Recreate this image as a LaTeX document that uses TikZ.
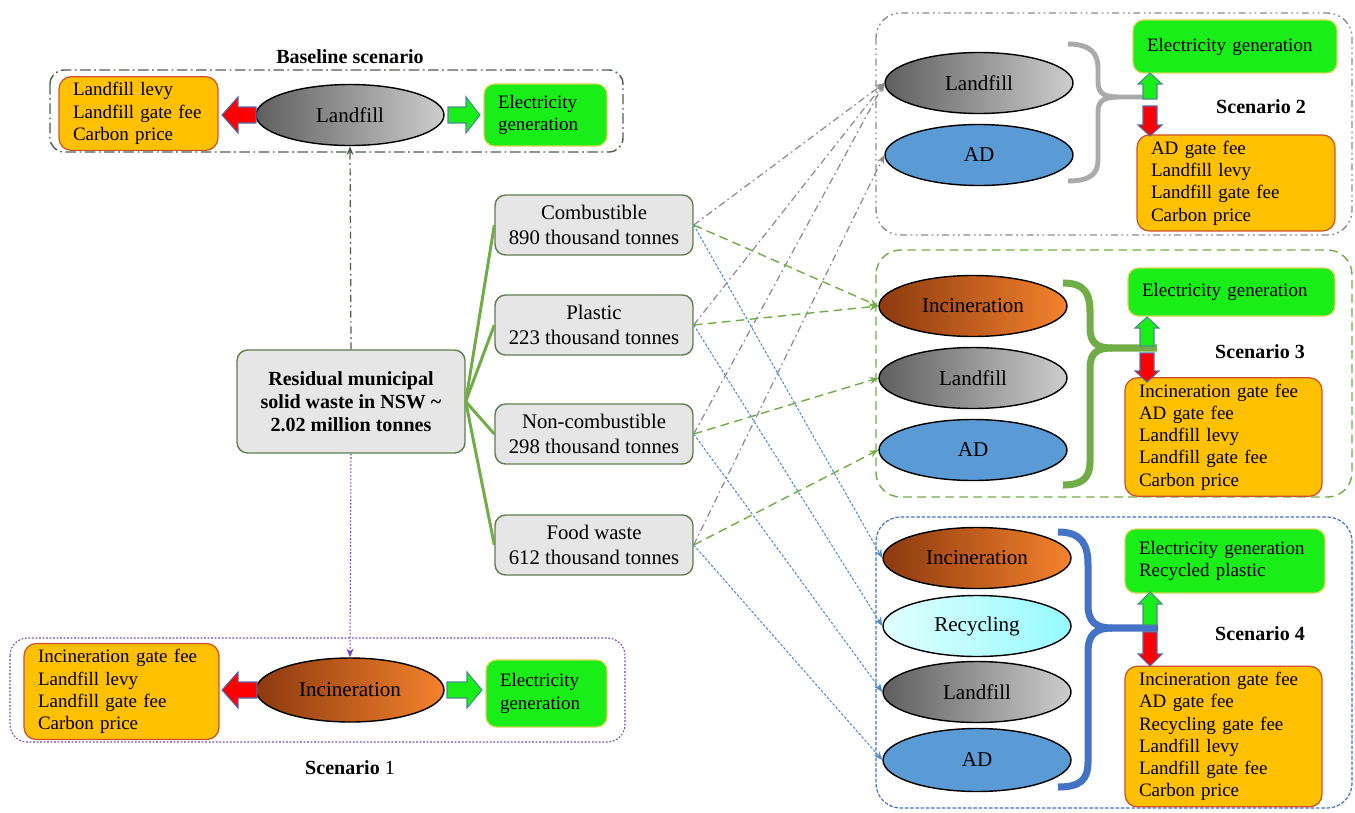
\documentclass[tikz,border=0pt]{standalone}
\usepackage{fontspec}
\setmainfont{Liberation Serif}
\usetikzlibrary{shapes.geometric,arrows.meta}

\definecolor{costfill}{RGB}{255,192,0}
\definecolor{costedge}{RGB}{205,80,45}
\definecolor{elecfill}{RGB}{25,238,25}
\definecolor{elecedge}{RGB}{210,215,80}
\definecolor{boxfill}{RGB}{230,230,230}
\definecolor{boxedge}{RGB}{95,125,80}
\definecolor{trunkgreen}{RGB}{112,173,71}
\definecolor{linegray}{RGB}{140,140,140}
\definecolor{lineblue}{RGB}{80,140,205}
\definecolor{adblue}{RGB}{91,155,213}
\definecolor{lfdark}{RGB}{95,95,95}
\definecolor{lflight}{RGB}{205,205,205}
\definecolor{incdark}{RGB}{140,58,15}
\definecolor{inclight}{RGB}{245,130,45}
\definecolor{recleft}{RGB}{225,255,255}
\definecolor{recright}{RGB}{150,250,255}
\definecolor{edgeblue}{RGB}{85,105,165}
\definecolor{edgeteal}{RGB}{70,140,140}
\definecolor{purp}{RGB}{115,70,175}
\definecolor{olivegray}{RGB}{75,95,75}
\definecolor{bracegray}{RGB}{170,170,170}
\definecolor{braceblue}{RGB}{68,114,196}

\newcommand\costfont{\fontsize{10.8}{12.7}\selectfont}
\newcommand\ovalfont{\fontsize{12}{14}\selectfont}
\newcommand\catfont{\fontsize{11.8}{14.2}\selectfont}
\newcommand\headfont{\fontsize{11.4}{13}\selectfont\bfseries}

\tikzset{
  cost/.style={draw=costedge, fill=costfill, line width=0.7pt, rounded corners=7pt, align=left, font=\costfont, inner xsep=0.28cm},
  elec/.style={draw=elecedge, fill=elecfill, line width=0.7pt, rounded corners=6pt, align=left, font=\costfont, inner xsep=0.28cm},
  oval/.style={ellipse, draw=black, line width=0.8pt, minimum width=3.76cm, minimum height=1.22cm, inner sep=0pt, font=\ovalfont},
  landfill/.style={oval, left color=lfdark, right color=lflight},
  incin/.style={oval, left color=incdark, right color=inclight},
  ad/.style={oval, fill=adblue},
  recyc/.style={oval, left color=recleft, right color=recright},
  catbox/.style={draw=boxedge, fill=boxfill, line width=0.8pt, rounded corners=6pt, align=center, font=\catfont, minimum width=3.96cm, minimum height=1.2cm},
  title/.style={font=\headfont},
  trunk/.style={trunkgreen, line width=1.7pt},
  toS2/.style={->, linegray, line width=0.7pt, dash pattern=on 4pt off 2pt on 1pt off 2pt},
  toS3/.style={->, trunkgreen, line width=0.8pt, dash pattern=on 5pt off 3pt},
  toS4/.style={->, lineblue, line width=0.6pt, dash pattern=on 1.5pt off 1pt},
  pics/blockarrow/.style args={#1/#2/#3/#4}{code={
    \draw[pic actions, line width=0.6pt] (0,-#3) -- (#1-#4,-#3) -- (#1-#4,-#2) -- (#1,0)
      -- (#1-#4,#2) -- (#1-#4,#3) -- (0,#3) -- cycle;}},
}

\begin{document}
\begin{tikzpicture}[x=0.02cm, y=-0.02cm, >={Stealth[length=5pt,width=4pt]}]
\useasboundingbox (0,0) rectangle (1355,812);

% scenario frames
\draw[olivegray, line width=0.8pt, dash pattern=on 6pt off 2pt on 1pt off 2pt, rounded corners=8pt] (50,70) rectangle (623,152);
\draw[purp, line width=0.6pt, dash pattern=on 1pt off 1pt, rounded corners=10pt] (10,638) rectangle (625,742);
\draw[linegray, line width=0.8pt, dash pattern=on 4pt off 2pt on 1pt off 2pt on 1pt off 2pt, rounded corners=14pt] (876,13) rectangle (1352,235);
\draw[trunkgreen, line width=0.8pt, dash pattern=on 5pt off 3pt, rounded corners=14pt] (876,250) rectangle (1352,497);
\draw[braceblue, line width=0.7pt, dash pattern=on 2pt off 1pt, rounded corners=14pt] (876,517) rectangle (1352,808);

\node[title] at (350,57) {Baseline scenario};
\node[title] at (350,768) {Scenario \mdseries 1};
\node[title] at (1261,107) {Scenario 2};
\node[title] at (1260,352) {Scenario 3};
\node[title] at (1260,634) {Scenario 4};

% centre
\node[catbox, font=\headfont, minimum width=4.56cm, minimum height=2.06cm] (res) at (351,401.5)
  {Residual municipal\\solid waste in NSW \textasciitilde\\2.02 million tonnes};
\node[catbox] (comb) at (594,225) {Combustible\\890 thousand tonnes};
\node[catbox] (plas) at (594,325) {Plastic\\223 thousand tonnes};
\node[catbox] (ncomb) at (594,434) {Non-combustible\\298 thousand tonnes};
\node[catbox] (food) at (594,545) {Food waste\\612 thousand tonnes};

% baseline
\node[cost, text width=2.62cm, minimum height=1.34cm] (bl-cost) at (138.5,113.5) {Landfill levy\\Landfill gate fee\\Carbon price};
\node[landfill] (bl-lf) at (350,115) {Landfill};
\node[elec, text width=1.9cm, minimum height=1.24cm] (bl-elec) at (545.5,115) {Electricity\\generation};
\pic[fill=red, draw=edgeblue, rotate=180] at (256,115) {blockarrow=34/18/8/16};
\pic[fill=elecfill, draw=edgeteal] at (448,115) {blockarrow=32/18/8/14};

% scenario 1
\node[cost, text width=3.34cm, minimum height=1.74cm] (s1-cost) at (121.5,691.5) {Incineration gate fee\\Landfill levy\\Landfill gate fee\\Carbon price};
\node[incin, minimum height=1.28cm] (s1-inc) at (350,690) {Incineration};
\node[elec, text width=1.86cm, minimum height=1.34cm] (s1-elec) at (546.5,693.5) {Electricity\\generation};
\pic[fill=red, draw=edgeblue, rotate=180] at (257,690) {blockarrow=35/18/8/16};
\pic[fill=elecfill, draw=edgeteal] at (447,690) {blockarrow=35/18/8/15};

% scenario 2
\node[landfill] (s2-lf) at (979,83) {Landfill};
\node[ad] (s2-ad) at (979,155) {AD};
\node[elec, text width=3.52cm, minimum height=1.06cm] (s2-elec) at (1235,46.5) {Electricity generation};
\node[cost, text width=3.4cm, minimum height=1.8cm] (s2-cost) at (1236,183) {AD gate fee\\Landfill levy\\Landfill gate fee\\Carbon price};
\draw[bracegray, line width=2.8pt] (1068,44) .. controls (1092,44) and (1098,55) .. (1098,68) -- (1098,82)
  .. controls (1098,94) and (1105,97) .. (1118,97) -- (1146,97);
\draw[bracegray, line width=2.8pt] (1118,97) .. controls (1105,97) and (1098,100) .. (1098,112) -- (1098,160)
  .. controls (1098,174) and (1090,181) .. (1068,181);
\pic[fill=elecfill, draw=edgeteal, rotate=90] at (1150,99) {blockarrow=26/12/7/11};
\pic[fill=red, draw=edgeblue, rotate=-90] at (1150,106) {blockarrow=30/12/7/11};

% scenario 3
\node[incin] (s3-inc) at (973,306) {Incineration};
\node[landfill] (s3-lf) at (973,378) {Landfill};
\node[ad] (s3-ad) at (973,450) {AD};
\node[elec, text width=3.58cm, minimum height=0.96cm] (s3-elec) at (1231.5,292) {Electricity generation};
\node[cost, text width=3.38cm, minimum height=2.2cm] (s3-cost) at (1223.5,437) {Incineration gate fee\\AD gate fee\\Landfill levy\\Landfill gate fee\\Carbon price};
\draw[trunkgreen, line width=4pt] (1063,283) .. controls (1086,283) and (1090,295) .. (1090,312) -- (1090,328)
  .. controls (1090,343) and (1097,348) .. (1112,348) -- (1157,348);
\draw[trunkgreen, line width=4pt] (1112,348) .. controls (1097,348) and (1090,353) .. (1090,368) -- (1090,462)
  .. controls (1090,478) and (1082,485) .. (1063,485);
\pic[fill=elecfill, draw=edgeteal, rotate=90] at (1147,346) {blockarrow=29/12/7/11};
\pic[fill=red, draw=edgeblue, rotate=-90] at (1147,353) {blockarrow=29/12/7/11};

% scenario 4
\node[incin] (s4-inc) at (977,558) {Incineration};
\node[recyc] (s4-rec) at (977,626) {Recycling};
\node[landfill] (s4-lf) at (977,692) {Landfill};
\node[ad, minimum height=1.26cm] (s4-ad) at (977,760) {AD};
\node[elec, text width=3.44cm, minimum height=1.28cm] (s4-elec) at (1225,561) {Electricity generation\\Recycled plastic};
\node[cost, text width=3.38cm, minimum height=2.74cm] (s4-cost) at (1223.5,736.5) {Incineration gate fee\\AD gate fee\\Recycling gate fee\\Landfill levy\\Landfill gate fee\\Carbon price};
\draw[braceblue, line width=4pt] (1058,532) .. controls (1082,532) and (1088,545) .. (1088,565) -- (1088,605)
  .. controls (1088,622) and (1096,628) .. (1112,628) -- (1158,628);
\draw[braceblue, line width=4pt] (1112,628) .. controls (1096,628) and (1088,634) .. (1088,652) -- (1088,762)
  .. controls (1088,780) and (1080,787) .. (1058,787);
\pic[fill=elecfill, draw=edgeteal, rotate=90] at (1150,625) {blockarrow=33/12/7/12};
\pic[fill=red, draw=edgeblue, rotate=-90] at (1150,632) {blockarrow=34/12/7/12};

% connectors
\draw[->, olivegray, line width=0.7pt, dash pattern=on 4pt off 2pt on 1pt off 2pt] (res.north) -- (bl-lf.south);
\draw[->, purp, line width=0.6pt, dash pattern=on 1pt off 1pt] (res.south) -- (s1-inc.north);
\foreach \c in {comb,plas,ncomb,food}
  \draw[trunk] (res.east) -- (\c.west);
\draw[toS2] (comb.east) -- (s2-lf.west);
\draw[toS2] (plas.east) -- (s2-lf.west);
\draw[toS2] (ncomb.east) -- (s2-lf.west);
\draw[toS2] (food.east) -- (s2-ad.west);
\draw[toS3] (comb.east) -- (s3-inc.west);
\draw[toS3] (plas.east) -- (s3-inc.west);
\draw[toS3] (ncomb.east) -- (s3-lf.west);
\draw[toS3] (food.east) -- (s3-ad.west);
\draw[toS4] (comb.east) -- (s4-inc.west);
\draw[toS4] (plas.east) -- (s4-rec.west);
\draw[toS4] (ncomb.east) -- (s4-lf.west);
\draw[toS4] (food.east) -- (s4-ad.west);
\end{tikzpicture}
\end{document}
